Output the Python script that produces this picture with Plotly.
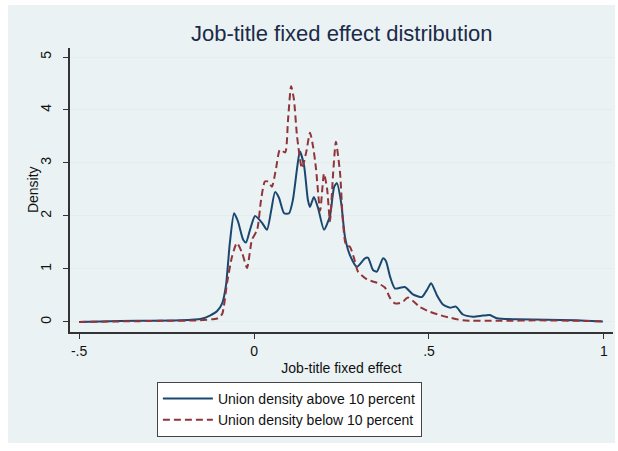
import plotly.graph_objects as go

# Kernel density estimates of job-title fixed effects, by union density group
effect_above = [-0.50, -0.44, -0.33, -0.21, -0.15, -0.126, -0.106, -0.091, -0.080, -0.069,
                -0.057, -0.046, -0.031, -0.023, -0.011, 0.003, 0.023, 0.037, 0.049, 0.060,
                0.071, 0.086, 0.100, 0.111, 0.123, 0.131, 0.143, 0.154, 0.160, 0.171,
                0.183, 0.200, 0.217, 0.229, 0.237, 0.249, 0.260, 0.274, 0.294, 0.317,
                0.326, 0.340, 0.351, 0.369, 0.377, 0.389, 0.403, 0.431, 0.454, 0.480,
                0.494, 0.506, 0.523, 0.540, 0.560, 0.577, 0.597, 0.626, 0.654, 0.674,
                0.694, 0.751, 0.837, 0.917, 0.997]
density_above = [0.00, 0.01, 0.02, 0.03, 0.06, 0.12, 0.20, 0.35, 0.70, 1.50,
                 2.05, 1.90, 1.55, 1.50, 1.75, 2.00, 1.87, 1.74, 2.10, 2.45,
                 2.35, 2.05, 2.05, 2.30, 2.90, 3.22, 2.95, 2.30, 2.17, 2.36,
                 2.15, 1.74, 2.00, 2.55, 2.62, 2.25, 1.60, 1.26, 1.04, 1.20,
                 1.21, 0.98, 0.95, 1.20, 1.15, 0.85, 0.63, 0.66, 0.52, 0.47,
                 0.60, 0.73, 0.50, 0.33, 0.27, 0.29, 0.14, 0.10, 0.12, 0.13,
                 0.07, 0.05, 0.04, 0.03, 0.01]

effect_below = [-0.50, -0.383, -0.269, -0.154, -0.12, -0.103, -0.091, -0.077, -0.063, -0.049,
                -0.034, -0.020, -0.006, 0.009, 0.020, 0.031, 0.040, 0.051, 0.063, 0.074,
                0.089, 0.097, 0.106, 0.114, 0.123, 0.137, 0.149, 0.160, 0.169, 0.177,
                0.189, 0.200, 0.209, 0.217, 0.226, 0.234, 0.246, 0.254, 0.263, 0.274,
                0.286, 0.297, 0.323, 0.351, 0.374, 0.389, 0.403, 0.423, 0.440, 0.457,
                0.474, 0.503, 0.531, 0.560, 0.597, 0.703, 0.817, 0.931, 0.997]
density_below = [0.00, 0.01, 0.02, 0.03, 0.05, 0.07, 0.15, 0.74, 1.23, 1.49,
                 1.30, 1.02, 1.55, 1.74, 2.30, 2.65, 2.65, 2.55, 2.90, 3.25,
                 3.20, 3.80, 4.45, 4.20, 3.50, 2.90, 3.20, 3.57, 3.30, 2.90,
                 2.10, 2.80, 2.50, 1.90, 2.80, 3.40, 2.80, 1.90, 1.45, 1.42,
                 1.20, 0.95, 0.80, 0.74, 0.65, 0.45, 0.35, 0.37, 0.46, 0.38,
                 0.28, 0.19, 0.13, 0.08, 0.03, 0.02, 0.03, 0.02, 0.01]

x_ticks = [-0.5, 0, 0.5, 1]
x_tick_labels = ["-.5", "0", ".5", "1"]
y_ticks = [0, 1, 2, 3, 4, 5]
y_tick_labels = ["0", "1", "2", "3", "4", "5"]

NAVY = "#1a476f"
MAROON = "#90353b"
BG = "#eaf2f3"
FONT = "Liberation Sans, Arial, sans-serif"

fig = go.Figure()
fig.add_trace(go.Scatter(
    x=effect_above, y=density_above, mode="lines",
    line=dict(color=NAVY, width=2, shape="spline", smoothing=0.6),
    name="Union density above 10 percent"))
fig.add_trace(go.Scatter(
    x=effect_below, y=density_below, mode="lines",
    line=dict(color=MAROON, width=2, dash="7px,4px", shape="spline", smoothing=0.6),
    name="Union density below 10 percent"))

# Light outer panel behind the plot region
fig.add_shape(type="rect", xref="paper", yref="paper",
              x0=-0.114, x1=1.004, y0=-0.391, y1=1.151,
              fillcolor=BG, line=dict(width=0), layer="below")

# Y-axis title placed close to the rotated tick labels
fig.add_annotation(text="Density", xref="paper", yref="paper",
                   x=-0.068, y=0.5, xanchor="center", yanchor="middle",
                   textangle=-90, showarrow=False,
                   font=dict(size=14, color="#111111", family=FONT))

fig.update_layout(
    width=618, height=451,
    margin=dict(l=70, r=5, t=48, b=119),
    paper_bgcolor="white", plot_bgcolor="white",
    font=dict(family=FONT, color="#222222", size=14),
    title=dict(text="Job-title fixed effect distribution",
               x=0.553, xref="container", xanchor="center",
               y=0.927, yref="container", yanchor="middle",
               font=dict(size=22, color="#1c2a48", family=FONT)),
    showlegend=True,
    legend=dict(x=0.160, y=-0.176, xanchor="left", yanchor="top",
                bgcolor="white", bordercolor="#444444", borderwidth=1,
                font=dict(size=14, color="#111111", family=FONT),
                itemwidth=50, tracegroupgap=2),
    xaxis=dict(range=[-0.526, 1.026], tickvals=x_ticks, ticktext=x_tick_labels,
               showgrid=False, zeroline=False,
               showline=True, linecolor="#333333", linewidth=1.5,
               ticks="outside", ticklen=5, tickcolor="#333333", tickwidth=1.2,
               tickfont=dict(size=14, color="#111111"),
               title=dict(text="Job-title fixed effect", standoff=6,
                          font=dict(size=14, color="#111111"))),
    yaxis=dict(range=[-0.19, 5.17], tickvals=y_ticks, ticktext=y_tick_labels,
               tickangle=-90, ticklabelstandoff=7,
               showgrid=True, gridcolor="#e4ecee", gridwidth=1, zeroline=False,
               showline=True, linecolor="#333333", linewidth=1.5,
               ticks="outside", ticklen=5, tickcolor="#333333", tickwidth=1.2,
               tickfont=dict(size=14, color="#111111")),
)

fig.write_html("out.html")
